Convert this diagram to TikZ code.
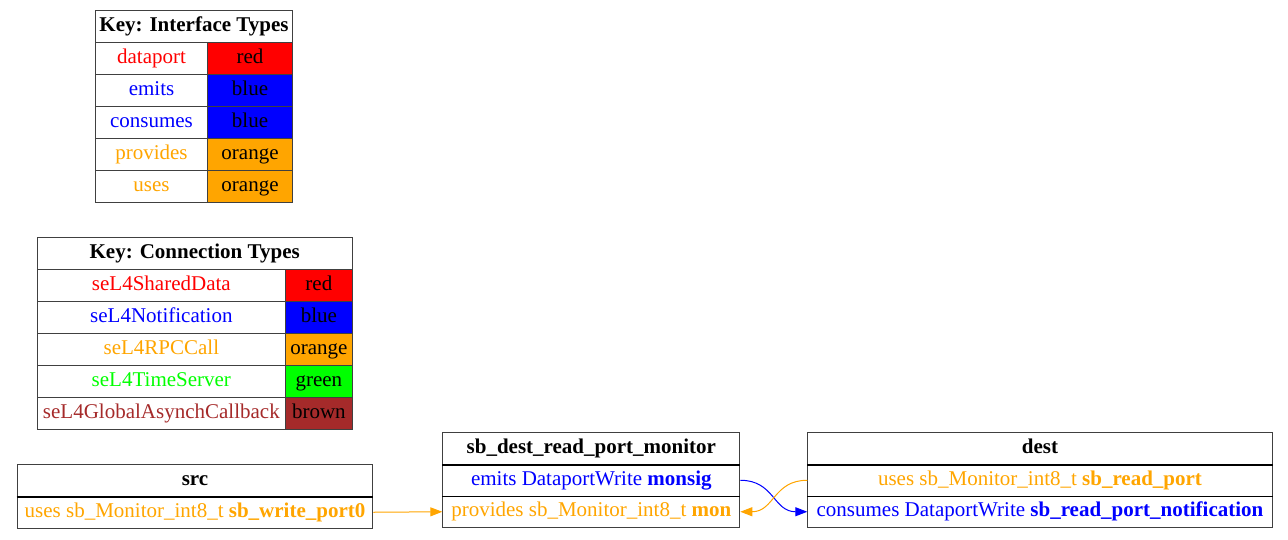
\documentclass[tikz,border=0pt]{standalone}
\usepackage{fontspec}
\setmainfont{Liberation Serif}
\usetikzlibrary{arrows.meta}
\definecolor{orange}{HTML}{FFA500}
\definecolor{green}{HTML}{00FF00}
\definecolor{brown}{HTML}{A52A2A}

\begin{document}
\begin{tikzpicture}[x=1pt,y=-1pt,
    cell/.style={draw=black!75,line width=1pt,anchor=north west,inner sep=0pt,
      minimum height=32pt,text height=14pt,text depth=4pt,font=\fontsize{21}{24}\selectfont},
    port/.style={cell,minimum height=31.5pt},
    divider/.style={line width=1.7pt,black},
    link/.style={line width=1pt,-{Triangle[length=12pt,width=9pt]}}]
    \useasboundingbox (0,0) rectangle (1288,539);
    % key: interface types
    \node[cell,minimum width=197pt] (ikey) at (95,10) {\bfseries Key: Interface Types};
    \foreach \name/\col [count=\i] in {dataport/red,emits/blue,consumes/blue,provides/orange,uses/orange} {
        \node[cell,minimum width=112pt,text=\col] (iname\i) at (95,10+32*\i) {\name};
        \node[cell,minimum width=85pt,fill=\col] (icol\i) at (207,10+32*\i) {\col};
    }
    % key: connection types
    \node[cell,minimum width=315pt] (ckey) at (36.7,237) {\bfseries Key: Connection Types};
    \foreach \name/\col [count=\i] in {seL4SharedData/red,seL4Notification/blue,seL4RPCCall/orange,
        seL4TimeServer/green,seL4GlobalAsynchCallback/brown} {
        \node[cell,minimum width=248.3pt,text=\col] (cname\i) at (36.7,237+32*\i) {\name};
        \node[cell,minimum width=66.7pt,fill=\col] (ccol\i) at (285,237+32*\i) {\col};
    }
    % components
    \node[cell,minimum width=355.6pt] (src) at (16.7,464) {\bfseries src};
    \node[port,minimum width=355.6pt,text=orange] (swp) at (16.7,496)
        {uses sb\_Monitor\_int8\_t \textbf{sb\_write\_port0}};
    \node[cell,minimum width=297pt] (mon) at (442.3,432) {\bfseries sb\_dest\_read\_port\_monitor};
    \node[port,minimum width=297pt,text=blue] (monsig) at (442.3,464)
        {emits DataportWrite \textbf{monsig}};
    \node[port,minimum width=297pt,text=orange] (monprov) at (442.3,495.5)
        {provides sb\_Monitor\_int8\_t \textbf{mon}};
    \node[cell,minimum width=464.4pt] (dest) at (807.3,432) {\bfseries dest};
    \node[port,minimum width=464.4pt,text=orange] (drp) at (807.3,464)
        {uses sb\_Monitor\_int8\_t \textbf{sb\_read\_port}};
    \node[port,minimum width=464.4pt,text=blue] (dnotif) at (807.3,495.5)
        {consumes DataportWrite \textbf{sb\_read\_port\_notification}};
    \draw[divider] (src.south west) -- (src.south east);
    \draw[divider] (mon.south west) -- (mon.south east);
    \draw[divider] (monsig.south west) -- (monsig.south east);
    \draw[divider] (dest.south west) -- (dest.south east);
    \draw[divider] (drp.south west) -- (drp.south east);
    % connections
    \draw[link,orange] (swp.east) -- (monprov.west);
    \draw[link,blue] (monsig.east) .. controls +(34,0) and +(-34,0) .. (dnotif.west);
    \draw[link,orange] (drp.west) .. controls +(-34,0) and +(34,0) .. (monprov.east);
\end{tikzpicture}
\end{document}
